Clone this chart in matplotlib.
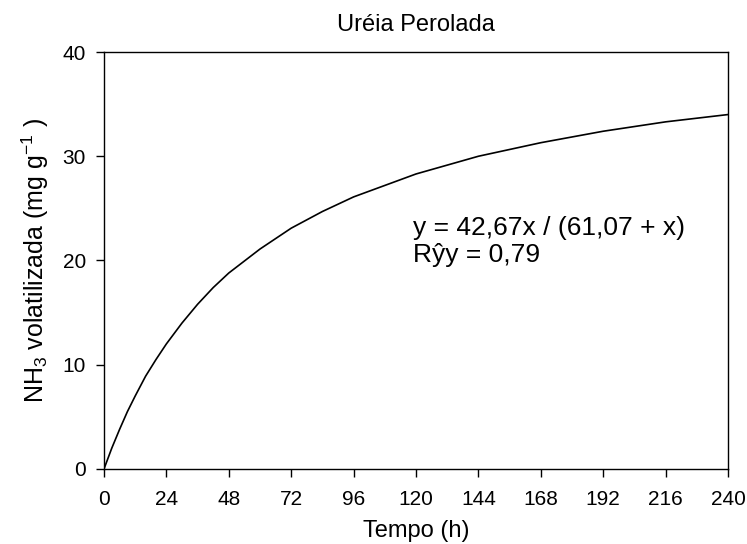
import matplotlib
matplotlib.use('Agg')
import matplotlib.pyplot as plt

plt.rcParams['font.family'] = ['Liberation Sans', 'DejaVu Sans']
plt.rcParams['mathtext.fontset'] = 'custom'
plt.rcParams['mathtext.rm'] = 'Liberation Sans'
plt.rcParams['mathtext.it'] = 'Liberation Sans'

# values
tempo = [0, 3, 6, 9, 12, 16, 20, 24, 30, 36, 42, 48, 60, 72, 84, 96,
         120, 144, 168, 192, 216, 240]
nh3 = [0, 2.0, 3.8, 5.5, 7.0, 8.9, 10.5, 12.0, 14.0, 15.8, 17.4, 18.8,
       21.1, 23.1, 24.7, 26.1, 28.3, 30.0, 31.3, 32.4, 33.3, 34.0]
x_ticks = [0, 24, 48, 72, 96, 120, 144, 168, 192, 216, 240]
y_ticks = [0, 10, 20, 30, 40]

fig = plt.figure(figsize=(7.47, 5.44), dpi=100)
ax = fig.add_axes([0.1392, 0.1379, 0.8354, 0.7665])

ax.plot(tempo, nh3, color='black', linewidth=1.2)

ax.set_xlim(0, 240)
ax.set_ylim(0, 40)
ax.set_xticks(x_ticks)
ax.set_yticks(y_ticks)
ax.tick_params(direction='out', length=6, width=1, labelsize=15)
ax.tick_params(axis='x', pad=9)
ax.tick_params(axis='y', pad=7)
for s in ax.spines.values():
    s.set_linewidth(1)

ax.set_title('Uréia Perolada', fontsize=17, pad=15)
ax.set_xlabel('Tempo (h)', fontsize=17, labelpad=8)
ax.set_ylabel(r'NH$_3$ volatilizada (mg g$^{\mathregular{-1}}$ )', fontsize=18, labelpad=8)

ax.text(119, 21.8, 'y = 42,67x / (61,07 + x)\nRŷy = 0,79', fontsize=19,
        va='center', ha='left', linespacing=1.15)

fig.savefig('out.png', dpi=100)
